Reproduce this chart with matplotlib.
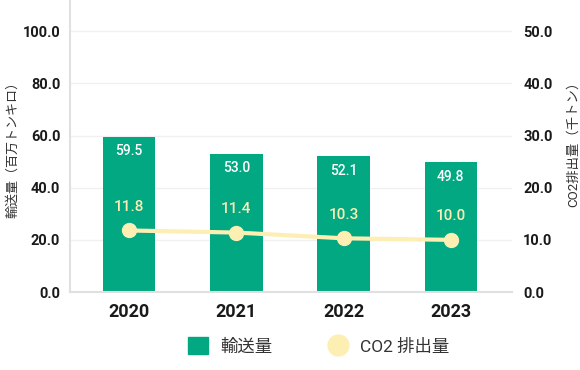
import matplotlib
matplotlib.use('Agg')
import matplotlib.pyplot as plt
from matplotlib.patches import Patch
from matplotlib.lines import Line2D

years = ['2020', '2021', '2022', '2023']
transport = [59.5, 53.0, 52.1, 49.8]
co2 = [11.8, 11.4, 10.3, 10.0]
left_ticks = [0, 20, 40, 60, 80, 100]
right_ticks = [0, 10, 20, 30, 40, 50]
left_label = '輸送量（百万トンキロ）'
right_label = 'CO2排出量（千トン）'
legend_labels = ['輸送量', 'CO2 排出量']

GREEN = '#01a882'
YELLOW = '#fdefb4'
GRID = '#f0f0f0'
SPINE = '#e0e0e0'
TXT = '#1a1a1a'

plt.rcParams['font.family'] = ['Roboto', 'Noto Sans CJK JP', 'DejaVu Sans']

W, H = 580, 370
fig = plt.figure(figsize=(W / 100, H / 100), dpi=100)
ax = fig.add_axes([70 / W, 1 - 292 / H, 442 / W, 292 / H])
x = list(range(len(years)))

ax.bar(x, transport, width=0.49, color=GREEN, zorder=2)
ax.set_xlim(-0.55, 3.57)
ax.set_ylim(0, 112)
ax.set_yticks(left_ticks)
ax.set_yticklabels([f'{v:.1f}' for v in left_ticks])
ax.set_xticks(x)
ax.set_xticklabels(years)
ax.grid(axis='y', color=GRID, linewidth=1, zorder=0)
ax.set_axisbelow(True)
for s in ['top', 'right']:
    ax.spines[s].set_visible(False)
for s in ['left', 'bottom']:
    ax.spines[s].set_color(SPINE)
    ax.spines[s].set_linewidth(1.5)
ax.tick_params(axis='y', length=0, pad=7, labelsize=10.5, labelcolor=TXT)
ax.tick_params(axis='x', length=0, pad=8, labelsize=13, labelcolor=TXT)
for lab in ax.get_yticklabels():
    lab.set_fontweight('semibold')
for lab in ax.get_xticklabels():
    lab.set_fontweight('semibold')

for i, v in zip(x, transport):
    ax.annotate(f'{v:.1f}', (i, v), xytext=(0, -10.5), textcoords='offset points',
                ha='center', va='center', color='white', fontsize=10, fontweight='medium', zorder=5)

ax2 = ax.twinx()
ax2.set_ylim(0, 56)
ax2.set_yticks(right_ticks)
ax2.set_yticklabels([f'{v:.1f}' for v in right_ticks])
for s in ax2.spines.values():
    s.set_visible(False)
ax2.tick_params(axis='y', length=0, pad=8, labelsize=10.5, labelcolor=TXT)
for lab in ax2.get_yticklabels():
    lab.set_fontweight('semibold')
ax2.plot(x, co2, color=YELLOW, linewidth=3, marker='o', markersize=10, zorder=3)
for i, c in zip(x, co2):
    ax2.annotate(f'{c:.1f}', (i, c), xytext=(0, 17), textcoords='offset points',
                 ha='center', va='center', color=YELLOW, fontsize=11, fontweight='medium', zorder=5)

fig.text(13 / W, 1 - 147 / H, left_label, rotation=90, ha='center', va='center',
         fontsize=9.4, color='#333333')
fig.text(573 / W, 1 - 141 / H, right_label, rotation=90, ha='center', va='center',
         fontsize=9.6, color='#333333')

handles = [Patch(facecolor=GREEN, edgecolor=GREEN),
           Line2D([], [], marker='o', linestyle='None', markersize=15,
                  markerfacecolor=YELLOW, markeredgecolor=YELLOW)]
leg = fig.legend(handles, legend_labels, loc='center', bbox_to_anchor=(318.5 / W, 1 - 346 / H),
                 ncol=2, frameon=False, fontsize=12.5, handlelength=1.15, handleheight=1.15,
                 handletextpad=0.7, columnspacing=3.2)
for t in leg.get_texts():
    t.set_color('#333333')

fig.savefig('out.png', dpi=100)
